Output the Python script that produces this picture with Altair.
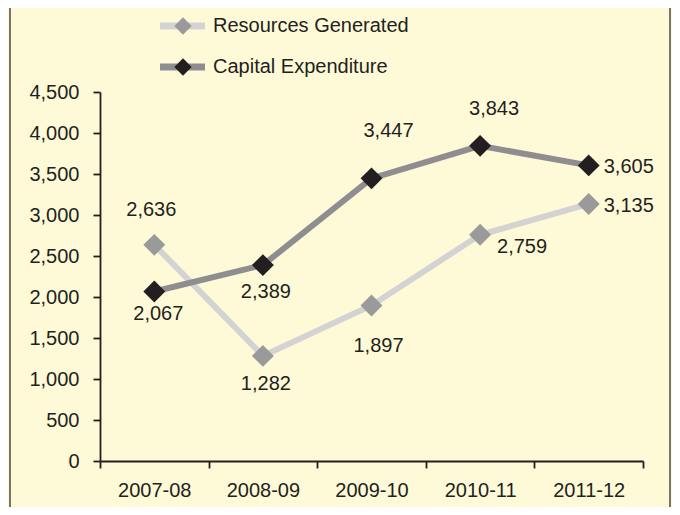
import altair as alt
import pandas as pd

years = ["2007-08", "2008-09", "2009-10", "2010-11", "2011-12"]
series = ["Resources Generated", "Capital Expenditure"]
resources = [2636, 1282, 1897, 2759, 3135]
capex = [2067, 2389, 3447, 3843, 3605]
y_ticks = [0, 500, 1000, 1500, 2000, 2500, 3000, 3500, 4000, 4500]

rows = []
for y, v in zip(years, resources):
    rows.append({"year": y, "series": series[0], "value": v})
for y, v in zip(years, capex):
    rows.append({"year": y, "series": series[1], "value": v})
df = pd.DataFrame(rows)

FONT = "Liberation Sans"
TXT = "#231F20"
BG = "#FEFAD8"
line_colors = {series[0]: "#D3D3D3", series[1]: "#8E8E90"}
marker_colors = {series[0]: "#9A9A9A", series[1]: "#231F20"}

W, H = 543, 369

xs = alt.X("year:N", sort=years,
           scale=alt.Scale(type="band", paddingInner=0, paddingOuter=0, domain=years),
           axis=alt.Axis(title=None, tickBand="extent", labelAngle=0, labelFont=FONT,
                         labelFontSize=20, labelColor=TXT, labelPadding=12,
                         domainColor=TXT, domainWidth=1.8, tickColor=TXT,
                         tickWidth=1.8, tickSize=7, grid=False))
ys = alt.Y("value:Q", scale=alt.Scale(domain=[0, 4500], nice=False),
           axis=alt.Axis(title=None, values=y_ticks, format=",d", labelFont=FONT,
                         labelFontSize=20, labelColor=TXT, labelPadding=14,
                         domainColor=TXT, domainWidth=1.8, tickColor=TXT,
                         tickWidth=1.8, tickSize=7, grid=False))

layers = []
for s in series:
    sub = alt.Chart(df).transform_filter(alt.datum.series == s)
    layers.append(sub.mark_line(color=line_colors[s], strokeWidth=6).encode(x=xs, y=ys))
for s in series:
    sub = alt.Chart(df).transform_filter(alt.datum.series == s)
    layers.append(sub.mark_point(shape="diamond", filled=True, opacity=1,
                                 color=marker_colors[s], size=480).encode(x=xs, y=ys))

# label placement (dx, dy, align) per series/year
label_offsets = {
    (series[0], "2007-08"): (-3, -35, "center"),
    (series[0], "2008-09"): (3, 28, "center"),
    (series[0], "2009-10"): (7, 41, "center"),
    (series[0], "2010-11"): (42, 12, "center"),
    (series[0], "2011-12"): (15, 2, "left"),
    (series[1], "2007-08"): (4, 22, "center"),
    (series[1], "2008-09"): (3, 27, "center"),
    (series[1], "2009-10"): (17, -47, "center"),
    (series[1], "2010-11"): (14, -37, "center"),
    (series[1], "2011-12"): (15, 2, "left"),
}
for (s, yr), (dx, dy, al) in label_offsets.items():
    sub = alt.Chart(df).transform_filter(
        (alt.datum.series == s) & (alt.datum.year == yr))
    layers.append(sub.mark_text(font=FONT, fontSize=20, color=TXT, dx=dx, dy=dy,
                                align=al, baseline="middle").encode(
        x=xs, y=ys, text=alt.Text("value:Q", format=",d")))

# custom legend
leg_df = pd.DataFrame({"series": series, "row": [0, 1]})
leg_y = [-66, -25]
for i, s in enumerate(series):
    base = alt.Chart(leg_df).transform_filter(alt.datum.series == s)
    layers.append(base.mark_rule(color=line_colors[s], strokeWidth=7).encode(
        x=alt.value(60), x2=alt.value(105), y=alt.value(leg_y[i])))
    layers.append(base.mark_point(shape="diamond", filled=True, opacity=1,
                                  color=marker_colors[s], size=300).encode(
        x=alt.value(83), y=alt.value(leg_y[i])))
    layers.append(base.mark_text(font=FONT, fontSize=20, color=TXT, align="left",
                                 baseline="middle").encode(
        x=alt.value(113), y=alt.value(leg_y[i]), text="series:N"))

# frame lines left/right
frame_df = pd.DataFrame({"k": [0]})
layers.append(alt.Chart(frame_df).mark_rule(color="#4A4A4A", strokeWidth=1.5).encode(
    x=alt.value(-90), y=alt.value(-84), y2=alt.value(415)))
layers.append(alt.Chart(frame_df).mark_rule(color="#4A4A4A", strokeWidth=1.5).encode(
    x=alt.value(570), y=alt.value(-84), y2=alt.value(415)))

chart = alt.layer(*layers).properties(
    width=W, height=H,
    autosize=alt.AutoSizeParams(type="none"),
    padding={"left": 92, "top": 84, "right": 29, "bottom": 46},
    background=BG,
).configure_view(stroke=None)

chart.save("out.html", embed_options={"renderer": "svg", "actions": False})
